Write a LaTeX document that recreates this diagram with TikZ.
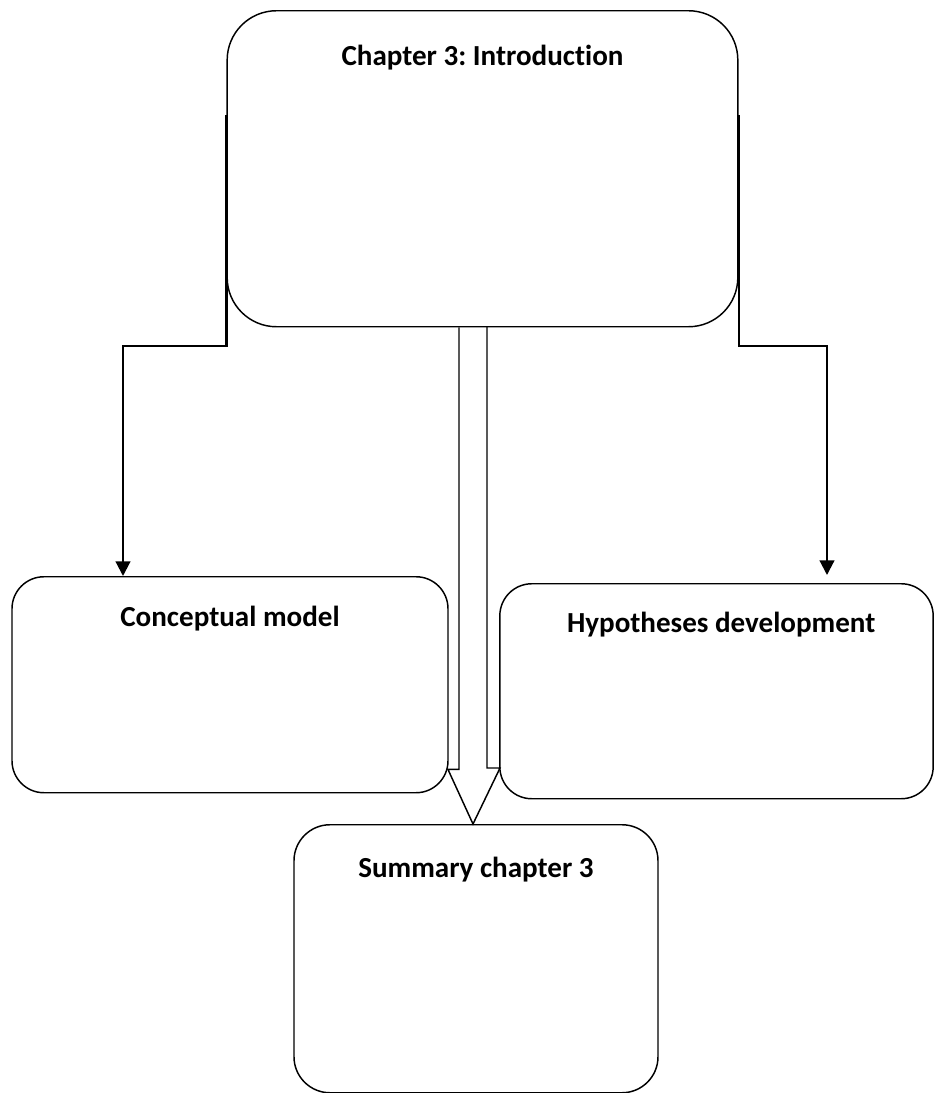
\documentclass[tikz,border=0pt]{standalone}
\usepackage{fontspec}
\setmainfont{Carlito}[Ligatures=NoCommon]
\frenchspacing
\usetikzlibrary{arrows.meta}
\usetikzlibrary{calc}
\tikzstyle{boite}=[
        draw,
        rectangle,
        anchor=north,
        inner sep=0pt,
        line width=1.1pt,
        font=\bfseries\fontsize{21.8pt}{25pt}\selectfont
]
\tikzstyle{lien}=[-{Triangle[length=11pt,width=11pt]},line width=1.6pt]
\tikzstyle{creux}=[draw,line width=1.1pt,line join=miter]

\begin{document}
\begin{tikzpicture}[x=0.75pt,y=-0.75pt]
\useasboundingbox (0,0) rectangle (934,1093);
\node[boite,rounded corners=37pt,minimum width=383pt,text height=41pt,text depth=196pt] (intro) at (482.5,10) {Chapter 3: Introduction};
\node[boite,rounded corners=24pt,minimum width=327pt,text height=37.5pt,text depth=124.5pt] (model) at (230,576) {Conceptual model};
\node[boite,rounded corners=24pt,minimum width=325pt,text height=36.75pt,text depth=124.5pt] (hypo) at (716.5,583) {\hspace*{7pt}Hypotheses development};
\node[boite,rounded corners=27pt,minimum width=273pt,text height=39.75pt,text depth=161.25pt] (summary) at (476,824) {Summary chapter 3};
%coudes des fleches
\coordinate (gauche) at (123,346);
\coordinate (droite) at (827,346);
\draw[lien] ([yshift=40pt]intro.west) |- (gauche) -- (gauche |- model.north);
\draw[lien] ([yshift=40pt]intro.east) |- (droite) -- ($(droite |- hypo.north)+(0,-8)$);

%grosse fleche vers le resume
\path (intro.south) ++(-9.5,0) coordinate (tige);
\draw[creux] ($(tige)+(-14,0)$) -- ++(0,442) -- ++(-11,0) -- (tige |- summary.north) -- ++(27,-56) -- ++(-13,0) -- ++(0,-442);

\end{tikzpicture}
\end{document}
